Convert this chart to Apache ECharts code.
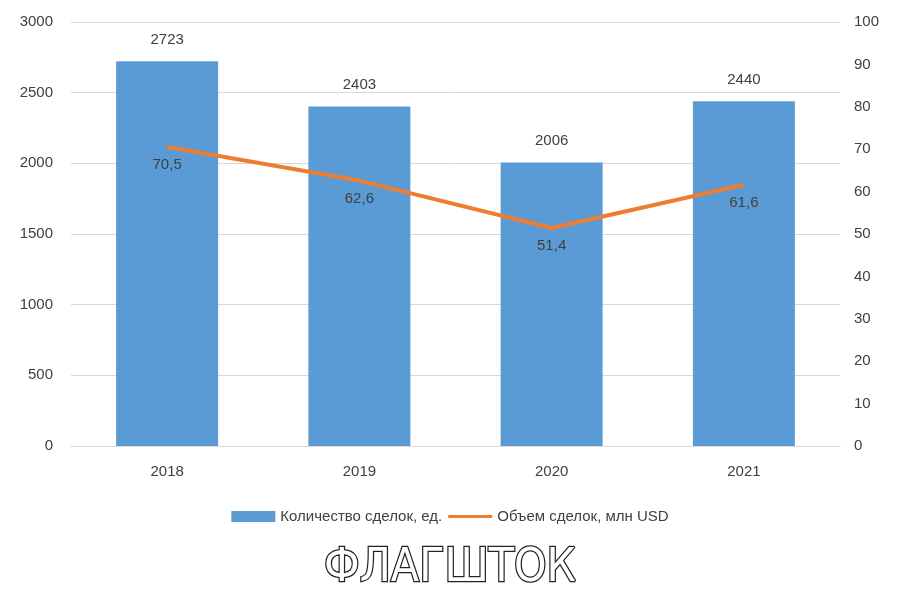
<!DOCTYPE html>
<html><head><meta charset="utf-8">
<script src="https://cdn.jsdelivr.net/npm/echarts@6/dist/echarts.min.js"></script>
<style>html,body{margin:0;background:#fff}#main{width:900px;height:605px}</style>
</head><body><div id="main"></div>
<script>
// данные
var years = ['2018', '2019', '2020', '2021'];
var dealCount = [2723, 2403, 2006, 2440];
var dealVolume = [70.5, 62.6, 51.4, 61.6];

var myChart = echarts.init(document.getElementById('main'));
var txt = {color: '#404040', fontSize: 15, fontFamily: 'Liberation Sans'};
myChart.setOption({
    backgroundColor: '#fff',
    animation: false,
    grid: {left: 71, right: 60, top: 22, bottom: 159},
    legend: {
        bottom: 76, left: 'center', itemGap: 6,
        textStyle: txt,
        data: [
            {name: 'Количество сделок, ед.', icon: 'rect', itemStyle: {color: '#5b9bd5'}},
            {name: 'Объем сделок, млн USD', icon: 'path://M0,4L44,4L44,7L0,7Z', itemStyle: {color: '#ed7d31'}}
        ],
        itemWidth: 44, itemHeight: 11
    },
    xAxis: {
        type: 'category', data: years,
        axisLine: {lineStyle: {color: '#d9d9d9'}},
        axisTick: {show: false},
        axisLabel: Object.assign({margin: 18}, txt)
    },
    yAxis: [
        {type: 'value', min: 0, max: 3000, interval: 500,
         axisLabel: Object.assign({margin: 18, formatter: function (v) { return String(v); }}, txt),
         splitLine: {lineStyle: {color: '#d9d9d9'}}},
        {type: 'value', min: 0, max: 100, interval: 10,
         axisLabel: Object.assign({margin: 14}, txt),
         splitLine: {show: false}}
    ],
    series: [
        {name: 'Количество сделок, ед.', type: 'bar', data: dealCount, barWidth: 102,
         itemStyle: {color: '#5b9bd5'},
         label: Object.assign({show: true, position: 'top', distance: 14}, txt)},
        {name: 'Объем сделок, млн USD', type: 'line', yAxisIndex: 1, data: dealVolume,
         symbol: 'circle', symbolSize: 1, showSymbol: true,
         lineStyle: {color: '#ed7d31', width: 4},
         itemStyle: {color: '#ed7d31'},
         labelLayout: {hideOverlap: false},
         label: Object.assign({show: true, position: 'bottom', distance: 10,
             formatter: function (p) { return String(p.value).replace('.', ','); }}, txt)}
    ],
    graphic: [{
        type: 'text', left: 'center', top: 545,
        style: {text: 'ФЛАГШТОК', fontSize: 46, fontFamily: 'DejaVu Sans Condensed',
                fill: '#fff', stroke: '#222', lineWidth: 2.5,
                letterSpacing: 6}
    }]
});
</script></body></html>
